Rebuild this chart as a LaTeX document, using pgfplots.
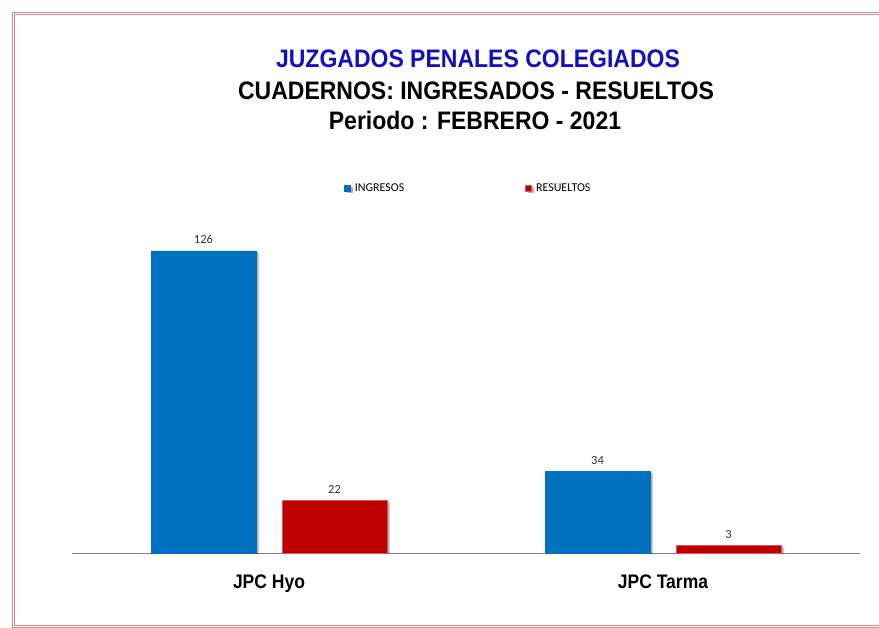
\documentclass[border=0pt]{standalone}
\usepackage{pgfplots}
\pgfplotsset{compat=1.18}
\usepackage{fontspec}
\setmainfont{Carlito}
\newfontfamily\arialfont{Liberation Sans}

\definecolor{ingBlue}{HTML}{0070C0}
\definecolor{resRed}{HTML}{C00000}
\definecolor{resEdge}{HTML}{D25A5A}
\definecolor{ttlBlue}{HTML}{1010C0}
\definecolor{frameRed}{HTML}{D88A8A}

\pgfplotsset{
  sqlegend/.style 2 args={legend image code/.code={
      \draw[fill=#1, draw=#2, line width=0.6pt] (0pt,-3pt) rectangle (6pt,3pt);}},
  barshadow/.style={preaction={fill=black, fill opacity=0.3, draw=none,
      transform canvas={xshift=2.5pt, yshift=-1.5pt}}},
}

\begin{document}
\begin{tikzpicture}
\path[use as bounding box] (0pt,0pt) rectangle (879pt,-628pt);
\clip (0pt,0pt) rectangle (879pt,-628pt);

% outer frame (two thin red lines)
\draw[draw=frameRed, line width=0.9pt] (12.5pt,-12.5pt) rectangle (905pt,-627pt);
\draw[draw=frameRed, line width=0.9pt] (14.5pt,-14.5pt) rectangle (905pt,-625pt);

% title
\begin{scope}[every node/.style={anchor=base, yscale=1.1,
    font=\arialfont\bfseries\fontsize{23}{23}\selectfont}]
\node[text=ttlBlue] at (478pt,-68pt) {JUZGADOS PENALES COLEGIADOS};
\node[text=black] at (476pt,-100pt) {CUADERNOS: INGRESADOS - RESUELTOS};
\node[text=black] at (475pt,-130pt) {Periodo : FEBRERO - 2021};
\end{scope}

\begin{axis}[
  at={(72pt,-553pt)},
  anchor=south west,
  scale only axis,
  width=788pt,
  height=335.6pt,
  xmin=-0.5, xmax=1.5,
  ymin=0, ymax=140,
  ybar=26pt,
  bar width=105pt,
  axis x line*=bottom,
  axis y line=none,
  axis line style={-, draw=gray, line width=1pt},
  xtick={0,1},
  xticklabels={JPC Hyo, JPC Tarma},
  major tick length=0pt,
  x tick label style={anchor=base, yshift=-35pt, yscale=1.12,
    font=\arialfont\bfseries\fontsize{17.5}{17.5}\selectfont},
  nodes near coords,
  every node near coord/.append style={anchor=base, yshift=7pt,
    text=black!80, font=\fontsize{12.5}{12.5}\selectfont,
    /pgf/number format/assume math mode=true},
  legend columns=2,
  legend style={at={(0.503,1.0876)}, anchor=center, draw=none, fill=none,
    font=\fontsize{12}{12}\selectfont,
    /tikz/every odd column/.append style={column sep=2pt},
    /tikz/every even column/.append style={column sep=119pt}},
]
  \addplot[fill=ingBlue, draw=ingBlue, line width=0.5pt, barshadow,
    sqlegend={ingBlue}{ingBlue}]
    coordinates {(0,126) (1,34)};
  \addlegendentry{INGRESOS}
  \addplot[fill=resRed, draw=resEdge, line width=1pt, barshadow,
    sqlegend={resRed}{resEdge}]
    coordinates {(0,22) (1,3)};
  \addlegendentry{RESUELTOS}
\end{axis}
\end{tikzpicture}
\end{document}
